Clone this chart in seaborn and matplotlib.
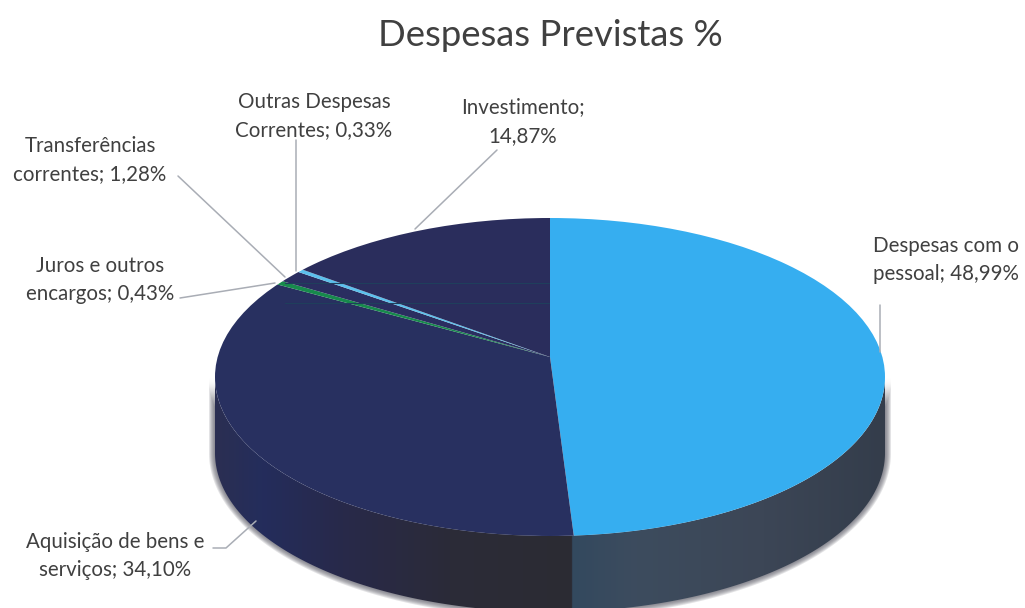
import numpy as np
import seaborn as sns
import matplotlib.pyplot as plt
from matplotlib.patches import Ellipse, Polygon
from matplotlib.colors import LinearSegmentedColormap

# values clockwise from 12 o'clock
values = [48.99, 34.10, 0.43, 1.28, 0.33, 14.87]
labels = ['Despesas com o\npessoal; 48,99%', 'Aquisição de bens e\nserviços; 34,10%',
          'Juros e outros\nencargos; 0,43%', 'Transferências\ncorrentes; 1,28%',
          'Outras Despesas\nCorrentes; 0,33%', 'Investimento;\n14,87%']
colors = ['#36aef0', '#283060', '#178a4c', '#2a2e60', '#5cc0ec', '#2a2d5c']
title = 'Despesas Previstas %'

sns.set_theme(style='white')
plt.rcParams['font.family'] = ['Lato', 'DejaVu Sans']
text_color = '#404040'

# picture pixels -> pie units, apex of the tilted pie is above the ellipse centre
apex_x, apex_y, rx, ry = 550, 357, 335, 160
cy = 377
depth = 76
def to_x(x):
    return (x - apex_x) / rx
def to_y(y):
    return (apex_y - y) / ry

fig = plt.figure(figsize=(10.25, 6.08), dpi=100)
ax = fig.add_axes([0, 0, 1, 1])

# side of the pie
t = np.linspace(np.pi, 2 * np.pi, 300)
def side_poly(grow=0):
    top_x = np.cos(t) * (1 + grow / rx)
    top_y = np.sin(t) * 159 / ry + to_y(cy)
    low_y = np.sin(t) * (159 + grow) / ry + to_y(cy + depth)
    pts = np.vstack([np.column_stack([top_x, top_y]),
                     np.column_stack([top_x[::-1], low_y[::-1]])])
    return Polygon(pts, closed=True, transform=ax.transData)

# soft grey edge
for g in [6, 5, 4, 3, 2, 1]:
    p = side_poly(g)
    p.set(facecolor='#555560', alpha=0.16, edgecolor='none')
    ax.add_patch(p)

stops = [(0.0, '#2b2f52'), (0.07, '#242d5c'), (0.19, '#28294a'), (0.35, '#2b2b38'),
         (0.532, '#2c2c33'), (0.534, '#33495f'), (0.63, '#3d4c5e'), (0.82, '#3c4656'), (1.0, '#343d4b')]
side_cmap = LinearSegmentedColormap.from_list('side', stops, N=670)
im = ax.imshow(np.linspace(0, 1, 670)[None, :], cmap=side_cmap, aspect='auto',
               extent=(to_x(215), to_x(885), to_y(620), to_y(370)), zorder=1)
clip = side_poly()
im.set_clip_path(clip)

# top of the pie, wedges run past the edge and get clipped by the ellipse
wedges, _ = ax.pie(values, colors=colors, startangle=90, counterclock=False, radius=4,
                   center=(0, 0), wedgeprops={'linewidth': 0})
top = Ellipse((0, to_y(cy)), 2, 2 * 159 / ry, transform=ax.transData)
for w in wedges:
    w.set_zorder(2)
    w.set_clip_on(True)  # pie turns this off
    w.set_clip_path(top)

# faint scan lines in the dark part
for yy in [283, 303]:
    ln, = ax.plot([to_x(285), to_x(549)], [to_y(yy), to_y(yy)], color='#1f3f5c', lw=0.8, zorder=3)
    ln.set_clip_path(top)

ax.set_aspect('auto')
ax.set_xlim(to_x(0), to_x(1025))
ax.set_ylim(to_y(608), to_y(0))
ax.axis('off')

# leader lines
leaders = [([880, 880], [305, 352]),
           ([213, 226, 256], [548, 548, 521]),
           ([180, 275], [298, 283]),
           ([178, 285], [176, 277]),
           ([296, 296], [140, 271]),
           ([497, 415], [150, 229])]
for xs, ys in leaders:
    ax.plot([to_x(v) for v in xs], [to_y(v) for v in ys], color='#a9adb5', lw=1.1, zorder=4)

# label centres
label_pos = [(946, 260), (115, 556), (100, 280), (90, 160), (314, 116), (523, 122)]
for lab, (x, y) in zip(labels, label_pos):
    ax.text(to_x(x), to_y(y), lab, ha='center', va='center', fontsize=14.8, color=text_color,
            linespacing=1.56, zorder=5)
ax.text(to_x(550), to_y(36), title, ha='center', va='center', fontsize=26.3, color=text_color, zorder=5)

fig.savefig('out.png', dpi=100, facecolor='white')
